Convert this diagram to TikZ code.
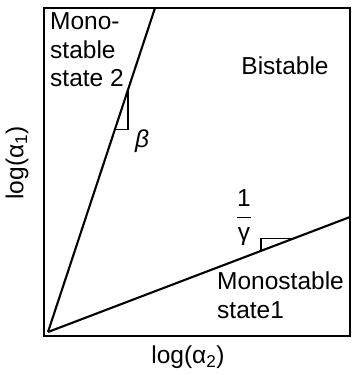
\documentclass[tikz,border=0pt]{standalone}
\usepackage{fontspec}
\setmainfont{Liberation Sans}
\usetikzlibrary{calc,positioning}

\begin{document}
\begin{tikzpicture}[x=1pt, y=-1pt, every node/.style={font=\fontsize{24.5}{28.5}\selectfont, inner sep=0pt}]
  \useasboundingbox (0,0) rectangle (357,375);
  \tikzset{
    frame/.style={line width=2.7pt},
    bound/.style={line width=2.1pt},
    slope/.style={line width=1.7pt}
  }
  % axes box and corners
  \coordinate (o) at (48,332);
  \coordinate (top) at (155,8);
  \coordinate (right) at (350,217);
  \draw[frame] (44,8) rectangle (350,336);
  % the two boundaries
  \draw[bound] (o) -- (top);
  \draw[bound] (o) -- (right);
  % slope triangles
  \coordinate (b1) at ($(o)!0.746!(top)$);
  \coordinate (b2) at ($(o)!0.625!(top)$);
  \draw[slope] (b1) -- (b1 |- b2) -- (b2);
  \coordinate (g1) at ($(o)!0.705!(right)$);
  \coordinate (g2) at ($(o)!0.812!(right)$);
  \draw[slope] (g1) -- (g1 |- g2) -- (g2);
  % labels
  \node[anchor=north west, align=left] (mono2) at (50,12.5) {Mono-\\stable\\state 2};
  \node (bi) at (285,66) {Bistable};
  \node[anchor=north west, align=left] (mono1) at (217,272) {Monostable\\state1};
  \node (beta) at (142,141) {\textit{β}};
  \node (gam) at (244,218) {$\displaystyle\frac{\mbox{1}}{\mbox{γ}}$};
  \node (xlab) at (188,357) {log(α\textsubscript{2})};
  \node[rotate=90] (ylab) at (17,163) {log(α\textsubscript{1})};
\end{tikzpicture}
\end{document}
